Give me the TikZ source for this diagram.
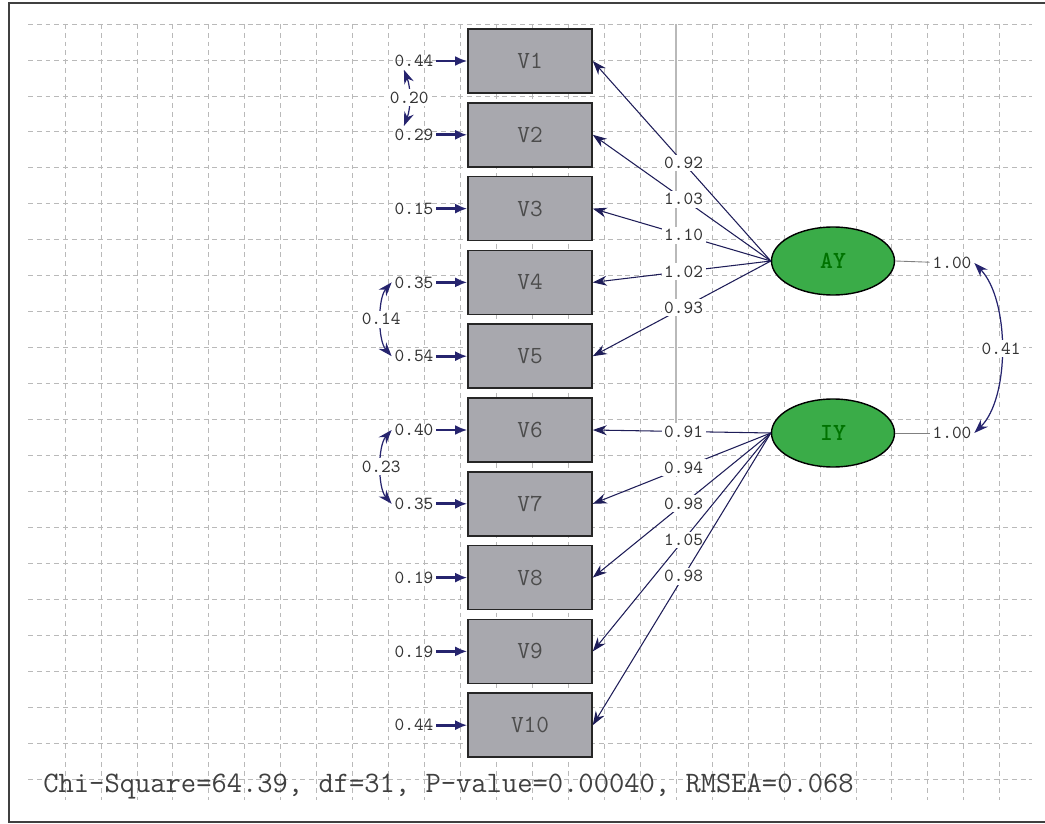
\documentclass[tikz,border=0pt]{standalone}
\usepackage{fontspec}
\usetikzlibrary{arrows.meta,shapes.geometric,positioning}
\definecolor{semblue}{RGB}{38,36,110}
\definecolor{boxgray}{RGB}{168,168,174}
\definecolor{latgreen}{RGB}{58,172,72}
\definecolor{gridgray}{RGB}{185,185,185}
\tikzset{
  obsbox/.style={draw=black!85, line width=0.9pt, fill=boxgray, minimum width=2.48cm,
    minimum height=1.28cm, inner sep=0pt, font=\ttfamily\fontsize{14}{14}\selectfont, text=black!70},
  latent/.style={ellipse, draw=black, line width=0.8pt, fill=latgreen, minimum width=2.46cm,
    minimum height=1.36cm, inner sep=0pt, font=\ttfamily\bfseries\fontsize{14}{14}\selectfont, text=green!45!black},
  lbl/.style={font=\ttfamily\fontsize{10.5}{10.5}\selectfont, text=black!80, inner sep=1.5pt},
  wlbl/.style={lbl, fill=white},
  errarrow/.style={semblue, line width=1.5pt, -{Latex[length=2.4mm,width=2mm]}},
  loadarrow/.style={semblue!80!black, line width=0.6pt, -{Stealth[length=2.8mm,width=2mm]}},
  covarrow/.style={semblue, line width=0.7pt, {Stealth[length=2.8mm,width=2mm]}-{Stealth[length=2.8mm,width=2mm]}},
  varline/.style={gray, line width=0.5pt},
  gridline/.style={gridgray, line width=0.45pt, dash pattern=on 2.8pt off 2.2pt}
}
\begin{document}
\begin{tikzpicture}[x=0.02cm, y=-0.02cm]
\useasboundingbox (0,0) rectangle (1045,824);
% grid
\foreach \k in {0,...,21} \draw[gridline] (28,{24+35.95*\k}) -- (1032,{24+35.95*\k});
\foreach \k in {0,...,26} \draw[gridline] ({65+35.95*\k},24) -- ({65+35.95*\k},800);
\draw[gridgray, line width=0.6pt] (676,24) -- (676,440);
% frame
\draw[black!75, line width=1.2pt] (1046,3) -- (9,3) -- (9,822) -- (1046,822);

% observed variables and error variances
\foreach \i in {1,...,10} \node[obsbox] (v\i) at (530,{61+73.8*(\i-1)}) {V\i};
\foreach \i/\ev in {1/0.44,2/0.29,3/0.15,4/0.35,5/0.54,6/0.40,7/0.35,8/0.19,9/0.19,10/0.44}{
  \node[lbl] (e\i) at (414,{61+73.8*(\i-1)}) {\ev};
  \draw[errarrow] (e\i) -- (v\i);
}

% latent variables
\node[latent] (ay) at (833,261) {AY};
\node[latent] (iy) at (833,433) {IY};

% loadings
\foreach \i/\lo in {1/0.92,2/1.03,3/1.10,4/1.02,5/0.93}
  \draw[loadarrow] (ay.west) -- node[wlbl,pos=0.49]{\lo} (v\i.east);
\foreach \i/\lo in {6/0.91,7/0.94,8/0.98,9/1.05,10/0.98}
  \draw[loadarrow] (iy.west) -- node[wlbl,pos=0.49]{\lo} (v\i.east);

% latent variances and covariance
\node[lbl] (va) at (952,263) {1.00};
\node[lbl] (vi) at (952,433) {1.00};
\draw[varline] (ay.east) -- (va);
\draw[varline] (iy.east) -- (vi);
\draw[covarrow] (va.east) .. controls (1010,300) and (1010,398) .. node[wlbl,pos=0.5]{0.41} (vi.east);

% error covariances
\draw[covarrow] ([xshift=7pt]e1.south west) .. controls +(7,18) and +(7,-18) .. node[wlbl,pos=0.5]{0.20} ([xshift=7pt]e2.north west);
\draw[covarrow] (e4.west) .. controls +(-14,16) and +(-14,-16) .. node[wlbl,pos=0.5]{0.14} (e5.west);
\draw[covarrow] (e6.west) .. controls +(-14,16) and +(-14,-16) .. node[wlbl,pos=0.5]{0.23} (e7.west);

% fit statistics
\node[font=\ttfamily\fontsize{16.9}{16.9}\selectfont, text=black!75, anchor=west, inner sep=0pt] (stats) at (43,787)
  {Chi-Square=64.39, df=31, P-value=0.00040, RMSEA=0.068};
\end{tikzpicture}
\end{document}
